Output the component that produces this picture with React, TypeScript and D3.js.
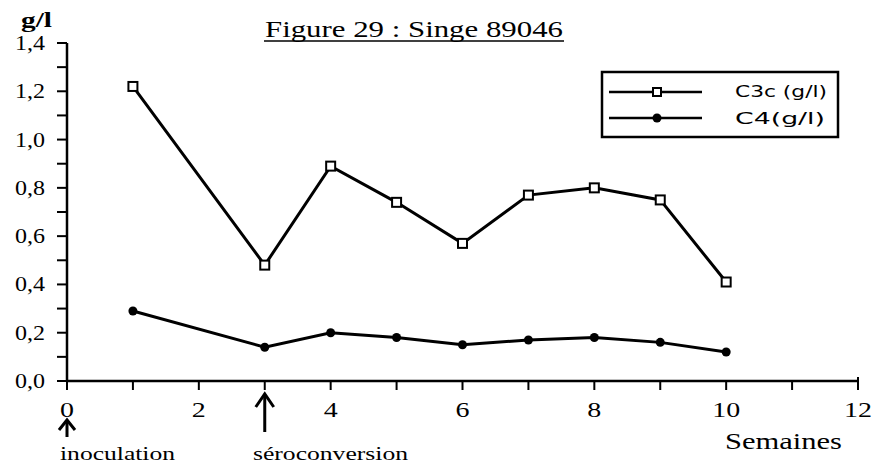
import React from "react";
import * as d3 from "d3";

const weeks = [1, 3, 4, 5, 6, 7, 8, 9, 10];
const c3c = [1.22, 0.48, 0.89, 0.74, 0.57, 0.77, 0.8, 0.75, 0.41];
const c4 = [0.29, 0.14, 0.2, 0.18, 0.15, 0.17, 0.18, 0.16, 0.12];
const xTicks = [0, 2, 4, 6, 8, 10, 12];
const yTicks = [0, 0.2, 0.4, 0.6, 0.8, 1.0, 1.2, 1.4];
const seriesNames = ["C3c (g/l)", "C4(g/l)"];
const title = "Figure 29 : Singe 89046";

export default function App() {
  const x = d3.scaleLinear().domain([0, 12]).range([67, 858]);
  const y = d3.scaleLinear().domain([0, 1.4]).range([381, 43]);
  const line = d3
    .line<[number, number]>()
    .x((d) => x(d[0]))
    .y((d) => y(d[1]));
  const d3c = weeks.map((w, i) => [w, c3c[i]] as [number, number]);
  const d4 = weeks.map((w, i) => [w, c4[i]] as [number, number]);
  const minorY = d3.range(0, 15).map((i) => i / 10);
  const minorX = d3.range(0, 13);
  const serif = "'Liberation Serif', 'DejaVu Serif', serif";
  const sans = "'DejaVu Sans', sans-serif";
  const stretch = "spacingAndGlyphs";

  return (
    <svg
      width={875}
      height={468}
      style={{ position: "absolute", left: 0, top: 0, background: "#fff" }}
    >
      {/* title */}
      <text x={265} y={37} fontFamily={serif} fontSize={23} textLength={298} lengthAdjust={stretch}>
        {title}
      </text>
      <line x1={264} x2={564} y1={41} y2={41} stroke="#000" strokeWidth={1.5} />
      <text x={21} y={27} fontFamily={serif} fontSize={20} fontWeight="bold" textLength={31} lengthAdjust={stretch}>
        g/l
      </text>

      {/* y axis */}
      <line x1={x(0)} x2={x(0)} y1={y(1.4)} y2={y(0)} stroke="#000" strokeWidth={2.5} />
      {minorY.map((v) => (
        <line key={v} x1={x(0) - 10} x2={x(0)} y1={y(v)} y2={y(v)} stroke="#000" strokeWidth={2} />
      ))}
      {yTicks.map((v) => (
        <text
          key={v}
          x={15}
          y={y(v) + 7}
          fontFamily={serif}
          fontSize={21}
          textLength={30}
          lengthAdjust={stretch}
        >
          {v.toFixed(1).replace(".", ",")}
        </text>
      ))}

      {/* x axis */}
      <line x1={x(0)} x2={x(12)} y1={y(0)} y2={y(0)} stroke="#000" strokeWidth={2.5} />
      {minorX.map((v) => (
        <line key={v} x1={x(v)} x2={x(v)} y1={y(0)} y2={y(0) + 9} stroke="#000" strokeWidth={2} />
      ))}
      <line x1={x(12)} x2={x(12)} y1={y(0) - 4} y2={y(0)} stroke="#000" strokeWidth={2} />
      {xTicks.map((v) => {
        const w = String(v).length * 14;
        return (
          <text
            key={v}
            x={x(v) - w / 2}
            y={417}
            fontFamily={serif}
            fontSize={22}
            textLength={w}
            lengthAdjust={stretch}
          >
            {v}
          </text>
        );
      })}
      <text x={725} y={449} fontFamily={serif} fontSize={23} textLength={117} lengthAdjust={stretch}>
        Semaines
      </text>

      {/* annotation arrows */}
      <g stroke="#000" strokeWidth={3} fill="none">
        <line x1={x(0)} x2={x(0)} y1={421} y2={437} />
        <polyline points={`${x(0) - 8},${430} ${x(0)},${420} ${x(0) + 8},${430}`} />
        <line x1={x(3)} x2={x(3)} y1={395} y2={432} />
        <polyline points={`${x(3) - 9},${407} ${x(3)},${394} ${x(3) + 9},${407}`} />
      </g>
      <text x={60} y={460} fontFamily={serif} fontSize={19} textLength={115} lengthAdjust={stretch}>
        inoculation
      </text>
      <text x={253} y={460} fontFamily={serif} fontSize={19} textLength={155} lengthAdjust={stretch}>
        séroconversion
      </text>

      {/* series */}
      <path d={line(d3c) || ""} fill="none" stroke="#000" strokeWidth={3} />
      {d3c.map((d, i) => (
        <rect
          key={i}
          x={x(d[0]) - 4.5}
          y={y(d[1]) - 4.5}
          width={9}
          height={9}
          fill="#fff"
          stroke="#000"
          strokeWidth={2}
        />
      ))}
      <path d={line(d4) || ""} fill="none" stroke="#000" strokeWidth={3} />
      {d4.map((d, i) => (
        <circle key={i} cx={x(d[0])} cy={y(d[1])} r={4.5} fill="#000" />
      ))}

      {/* legend */}
      <rect x={602} y={72} width={236} height={65} fill="#fff" stroke="#000" strokeWidth={2.5} />
      <line x1={609} x2={702} y1={92} y2={92} stroke="#000" strokeWidth={2.5} />
      <rect x={653} y={88} width={8} height={8} fill="#fff" stroke="#000" strokeWidth={2} />
      <text x={735} y={97} fontFamily={sans} fontSize={15} textLength={92} lengthAdjust={stretch}>
        {seriesNames[0]}
      </text>
      <line x1={609} x2={702} y1={118} y2={118} stroke="#000" strokeWidth={2.5} />
      <circle cx={657} cy={118} r={4.5} fill="#000" />
      <text x={735} y={124} fontFamily={sans} fontSize={15} textLength={90} lengthAdjust={stretch}>
        {seriesNames[1]}
      </text>
    </svg>
  );
}
